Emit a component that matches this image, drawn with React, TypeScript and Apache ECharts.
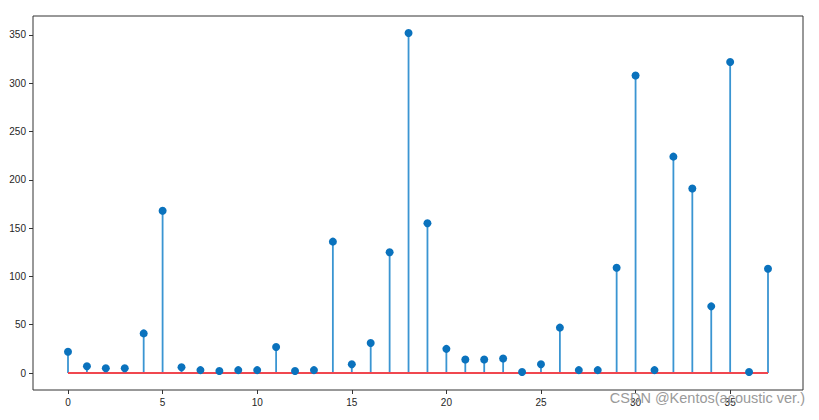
import React, { useEffect, useRef } from "react";
import * as echarts from "echarts";

const xIndex: number[] = Array.from({ length: 38 }, (_, i) => i);
const values: number[] = [
  22, 7, 5, 5, 41, 168, 6, 3, 2, 3, 3, 27, 2, 3, 136, 9, 31, 125, 352, 155,
  25, 14, 14, 15, 1, 9, 47, 3, 3, 109, 308, 3, 224, 191, 69, 322, 1, 108,
];
const xTicks: number[] = [0, 5, 10, 15, 20, 25, 30, 35];
const yTicks: number[] = [0, 50, 100, 150, 200, 250, 300, 350];
const watermark = "CSDN @Kentos(acoustic ver.)";

export default function App() {
  const ref = useRef<HTMLDivElement>(null);
  useEffect(() => {
    if (!ref.current) return;
    const chart = echarts.init(ref.current, null, { renderer: "svg" });
    const pts = xIndex.map((x, i) => [x, values[i]]);
    const labelStyle = {
      color: "#262626",
      fontSize: 10,
      fontFamily: "Liberation Sans, Arial, sans-serif",
    };
    chart.setOption({
      animation: false,
      backgroundColor: "#ffffff",
      grid: {
        left: 33,
        right: 16,
        top: 16,
        bottom: 30,
        show: true,
        borderColor: "#333333",
        borderWidth: 1,
        backgroundColor: "#ffffff",
      },
      xAxis: {
        type: "value",
        min: -1.85,
        max: 38.85,
        splitLine: { show: false },
        axisLine: { show: false, onZero: false },
        axisTick: {
          show: true,
          customValues: xTicks,
          length: 4,
          lineStyle: { color: "#333333" },
        },
        axisLabel: { ...labelStyle, customValues: xTicks, margin: 7 },
      },
      yAxis: {
        type: "value",
        min: -17.6,
        max: 369.6,
        splitLine: { show: false },
        axisLine: { show: false, onZero: false },
        axisTick: {
          show: true,
          customValues: yTicks,
          length: 4,
          lineStyle: { color: "#333333" },
        },
        axisLabel: { ...labelStyle, customValues: yTicks, margin: 7 },
      },
      series: [
        {
          type: "custom",
          data: pts,
          z: 2,
          renderItem: (params: any, api: any) => {
            const x = api.value(0);
            const y = api.value(1);
            const p0 = api.coord([x, 0]);
            const p1 = api.coord([x, y]);
            return {
              type: "line",
              shape: { x1: p0[0], y1: p0[1], x2: p1[0], y2: p1[1] },
              style: { stroke: "#3a95d2", lineWidth: 1.8 },
            };
          },
        },
        {
          type: "line",
          data: [
            [xIndex[0], 0],
            [xIndex[xIndex.length - 1], 0],
          ],
          symbol: "none",
          z: 3,
          lineStyle: { color: "#f0474f", width: 2 },
        },
        {
          type: "scatter",
          data: pts,
          symbol: "circle",
          symbolSize: 8,
          z: 4,
          itemStyle: { color: "#0a72bd", opacity: 1 },
        },
      ],
      graphic: [
        {
          type: "text",
          right: 14,
          top: 390,
          z: 10,
          style: {
            text: watermark,
            fill: "#9a9a9a",
            fontSize: 14.5,
            fontFamily: "Liberation Sans, Arial, sans-serif",
          },
        },
      ],
    });
    return () => chart.dispose();
  }, []);
  return <div ref={ref} style={{ width: 819, height: 420, position: "fixed", left: 0, top: 0 }} />;
}
